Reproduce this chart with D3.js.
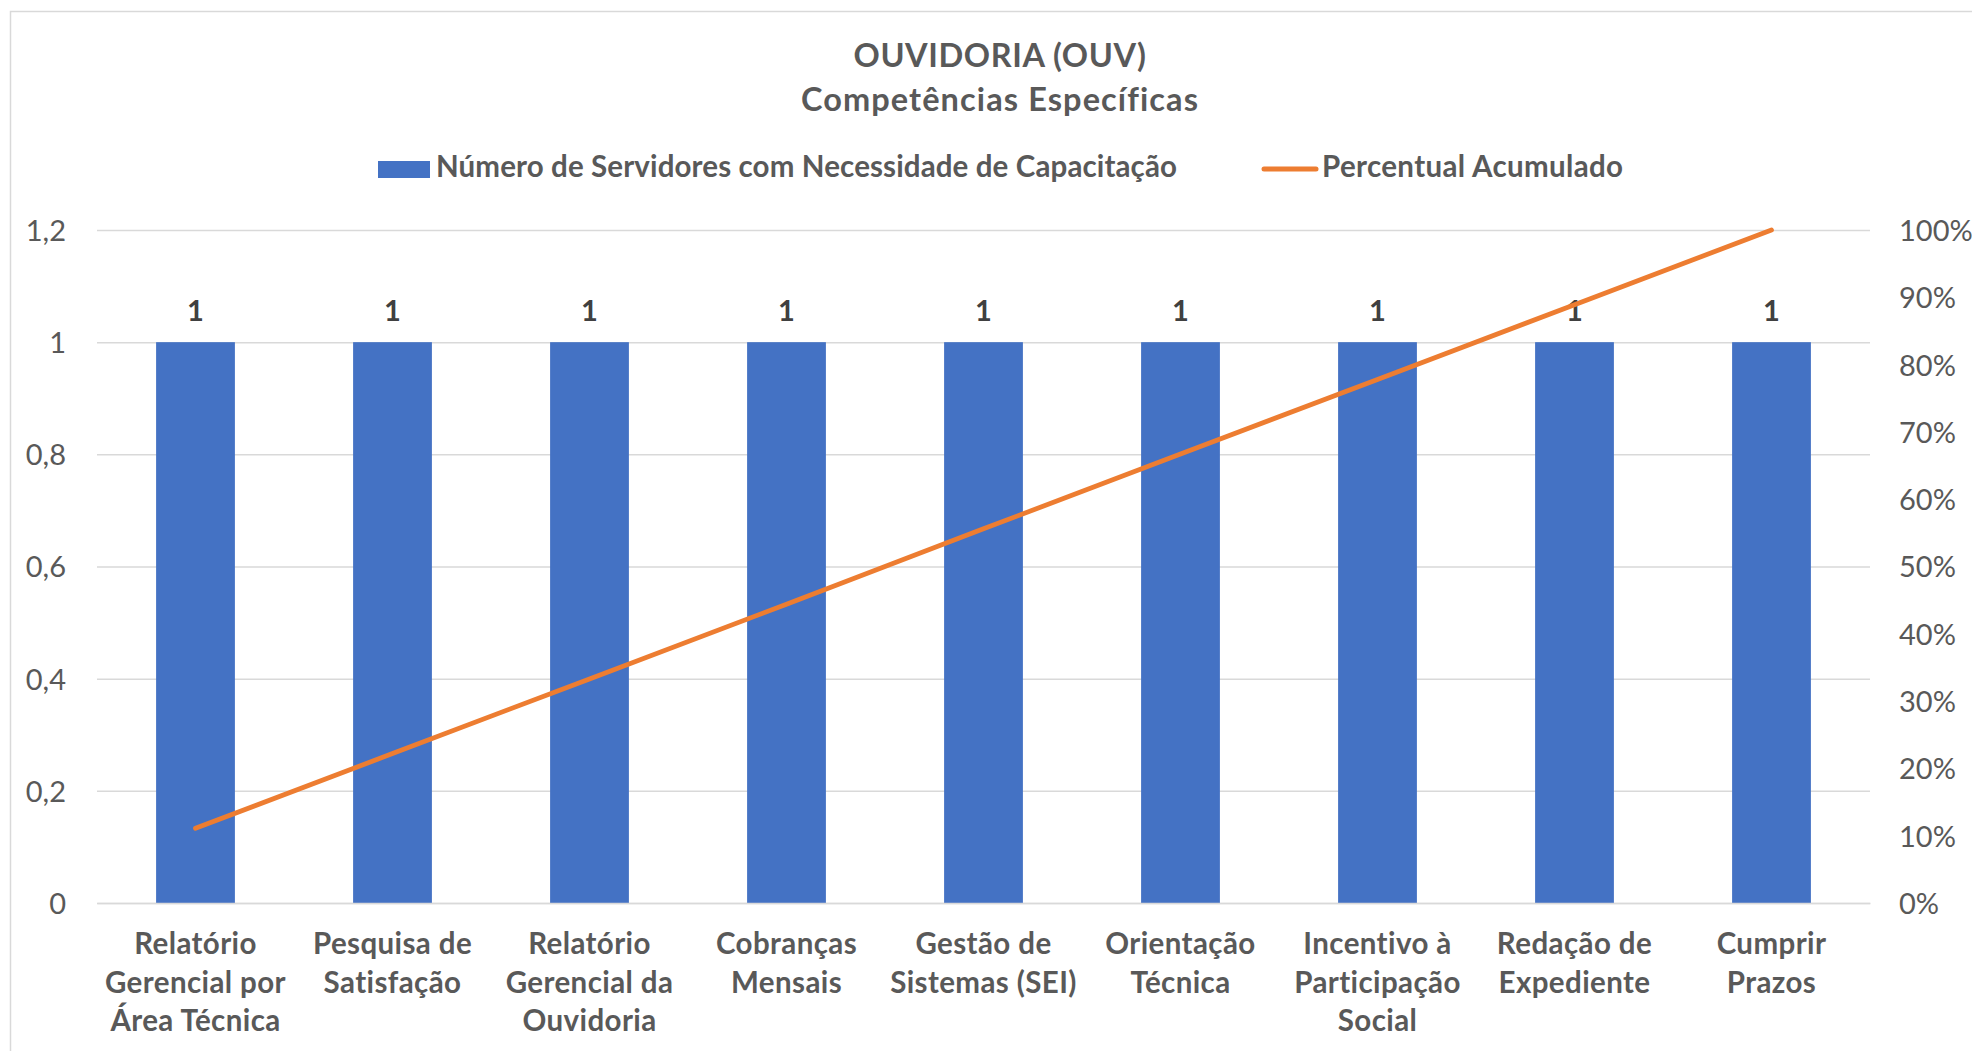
<!DOCTYPE html>
<html><head><meta charset="utf-8">
<script src="https://cdn.jsdelivr.net/npm/d3@7"></script>
<style>html,body{margin:0;padding:0;background:#fff;}svg{display:block;}</style>
</head><body>
<script>
const titleLines = ["OUVIDORIA (OUV)", "Competências Específicas"];
const seriesNames = ["Número de Servidores com Necessidade de Capacitação", "Percentual Acumulado"];
const categories = [
  "Relatório\nGerencial por\nÁrea Técnica",
  "Pesquisa de\nSatisfação",
  "Relatório\nGerencial da\nOuvidoria",
  "Cobranças\nMensais",
  "Gestão de\nSistemas (SEI)",
  "Orientação\nTécnica",
  "Incentivo à\nParticipação\nSocial",
  "Redação de\nExpediente",
  "Cumprir\nPrazos"
];
const counts = [1, 1, 1, 1, 1, 1, 1, 1, 1];
const cumulative = [0.111, 0.222, 0.333, 0.444, 0.556, 0.667, 0.778, 0.889, 1.0];
const leftTicks = [0, 0.2, 0.4, 0.6, 0.8, 1, 1.2];
const rightTicks = [0, 0.1, 0.2, 0.3, 0.4, 0.5, 0.6, 0.7, 0.8, 0.9, 1.0];

const W = 1972, H = 1051;
const FONT = "Lato, 'Open Sans', sans-serif";
const gray = "#595959";
const m = {left: 97, right: 1870, top: 230, bottom: 903};

const svg = d3.select("body").append("svg").attr("width", W).attr("height", H);
svg.append("rect").attr("width", W).attr("height", H).attr("fill", "#fff");
svg.append("rect").attr("x", 10.5).attr("y", 11.5).attr("width", 2100).attr("height", 1200)
  .attr("fill", "none").attr("stroke", "#d9d9d9").attr("stroke-width", 1.5);

const x = d3.scaleBand().domain(categories).range([m.left, m.right]).paddingInner(0.6).paddingOuter(0.3);
const y = d3.scaleLinear().domain([0, 1.2]).range([m.bottom, m.top]);
const y2 = d3.scaleLinear().domain([0, 1]).range([m.bottom, m.top]);
const fmtL = d3.formatLocale({decimal: ",", thousands: ".", grouping: [3], currency: ["R$", ""]});

// gridlines via axis
const grid = svg.append("g").attr("transform", `translate(${m.left},0)`)
  .call(d3.axisLeft(y).tickValues(leftTicks).tickSize(-(m.right - m.left)).tickFormat(""));
grid.select(".domain").remove();
grid.selectAll(".tick line").attr("stroke", "#d9d9d9").attr("stroke-width", 1.5);

// left axis labels
const ax = svg.append("g").attr("transform", `translate(66,0)`)
  .call(d3.axisLeft(y).tickValues(leftTicks).tickSize(0).tickPadding(0)
    .tickFormat(d => fmtL.format("~g")(d)));
ax.select(".domain").remove();
ax.selectAll("text").attr("font-family", FONT).attr("font-size", 29).attr("fill", gray).attr("dy", "0.36em");

// right axis labels
const ax2 = svg.append("g").attr("transform", `translate(1899,0)`)
  .call(d3.axisRight(y2).tickValues(rightTicks).tickSize(0).tickPadding(0).tickFormat(d3.format(".0%")));
ax2.select(".domain").remove();
ax2.selectAll("text").attr("font-family", FONT).attr("font-size", 29).attr("fill", gray).attr("dy", "0.36em");

// bars
svg.append("g").selectAll("rect").data(counts).join("rect")
  .attr("x", (d, i) => x(categories[i]))
  .attr("y", d => y(d))
  .attr("width", x.bandwidth())
  .attr("height", d => y(0) - y(d))
  .attr("fill", "#4472C4");

// data labels
svg.append("g").selectAll("text").data(counts).join("text")
  .attr("x", (d, i) => x(categories[i]) + x.bandwidth() / 2)
  .attr("y", d => y(d) - 21)
  .attr("text-anchor", "middle").attr("font-family", FONT).attr("font-weight", "bold")
  .attr("font-size", 29).attr("fill", "#404040")
  .text(d => d);

// line
const line = d3.line()
  .x((d, i) => x(categories[i]) + x.bandwidth() / 2)
  .y(d => y2(d));
svg.append("path").datum(cumulative).attr("d", line)
  .attr("fill", "none").attr("stroke", "#ED7D31").attr("stroke-width", 4.8)
  .attr("stroke-linecap", "round").attr("stroke-linejoin", "round");

// x axis labels
const xa = svg.append("g").attr("transform", `translate(0,${m.bottom})`)
  .call(d3.axisBottom(x).tickSize(0).tickFormat(""));
xa.select(".domain").attr("stroke", "#d9d9d9").attr("stroke-width", 1.5);
xa.selectAll(".tick").each(function(d) {
  const t = d3.select(this).append("text").attr("text-anchor", "middle")
    .attr("font-family", FONT).attr("font-weight", "bold").attr("font-size", 29.5)
    .attr("letter-spacing", 0.4).attr("fill", gray);
  d.split("\n").forEach((ln, k) => {
    t.append("tspan").attr("x", 0).attr("y", 51 + k * 38.5).text(ln);
  });
});

// title
svg.append("g").selectAll("text").data(titleLines).join("text")
  .attr("x", 1000).attr("y", (d, i) => 67 + i * 44)
  .attr("text-anchor", "middle").attr("font-family", FONT).attr("font-weight", "bold")
  .attr("font-size", 32.5).attr("letter-spacing", (d, i) => i === 0 ? 0.6 : 1.1).attr("fill", gray).text(d => d);

// legend
const lg = svg.append("g");
lg.append("rect").attr("x", 378).attr("y", 161).attr("width", 52).attr("height", 17).attr("fill", "#4472C4");
lg.append("text").attr("x", 436).attr("y", 177).attr("font-family", FONT).attr("font-weight", "bold")
  .attr("font-size", 29.5).attr("letter-spacing", 0.12).attr("fill", gray).text(seriesNames[0]);
lg.append("line").attr("x1", 1264).attr("x2", 1316).attr("y1", 169).attr("y2", 169)
  .attr("stroke", "#ED7D31").attr("stroke-width", 5).attr("stroke-linecap", "round");
lg.append("text").attr("x", 1322).attr("y", 177).attr("font-family", FONT).attr("font-weight", "bold")
  .attr("font-size", 29.5).attr("letter-spacing", 0.35).attr("fill", gray).text(seriesNames[1]);
</script>
</body></html>
